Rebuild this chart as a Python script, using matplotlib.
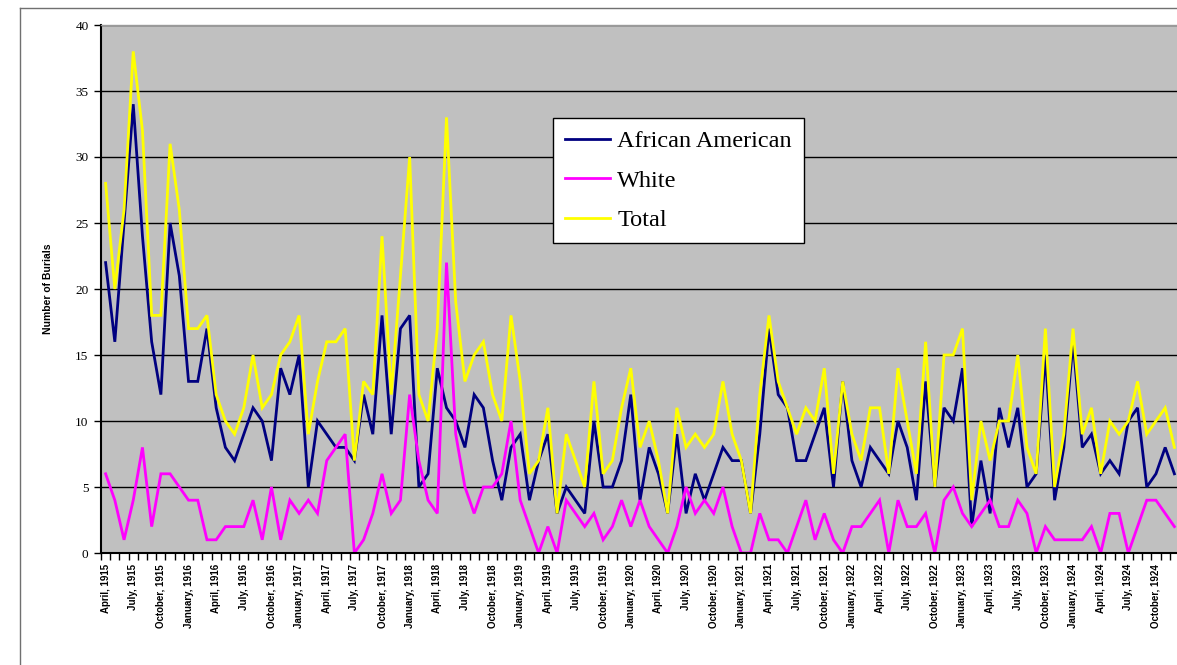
import numpy as np
import matplotlib
matplotlib.use("Agg")
import matplotlib.pyplot as plt
from matplotlib.lines import Line2D

# ---- data (monthly, April 1915 - December 1924) ----
african_american = [22, 16, 25, 34, 24, 16, 12, 25, 21, 13, 13, 17, 11, 8, 7, 9, 11, 10, 7, 14,
                    12, 15, 5, 10, 9, 8, 8, 7, 12, 9, 18, 9, 17, 18, 5, 6, 14, 11, 10, 8,
                    12, 11, 7, 4, 8, 9, 4, 7, 9, 3, 5, 4, 3, 10, 5, 5, 7, 12, 4, 8,
                    6, 3, 9, 3, 6, 4, 6, 8, 7, 7, 3, 9, 17, 12, 11, 7, 7, 9, 11, 5,
                    13, 7, 5, 8, 7, 6, 10, 8, 4, 13, 5, 11, 10, 14, 2, 7, 3, 11, 8, 11,
                    5, 6, 15, 4, 8, 16, 8, 9, 6, 7, 6, 10, 11, 5, 6, 8, 6]
white = [6, 4, 1, 4, 8, 2, 6, 6, 5, 4, 4, 1, 1, 2, 2, 2, 4, 1, 5, 1,
         4, 3, 4, 3, 7, 8, 9, 0, 1, 3, 6, 3, 4, 12, 7, 4, 3, 22, 9, 5,
         3, 5, 5, 6, 10, 4, 2, 0, 2, 0, 4, 3, 2, 3, 1, 2, 4, 2, 4, 2,
         1, 0, 2, 5, 3, 4, 3, 5, 2, 0, 0, 3, 1, 1, 0, 2, 4, 1, 3, 1,
         0, 2, 2, 3, 4, 0, 4, 2, 2, 3, 0, 4, 5, 3, 2, 3, 4, 2, 2, 4,
         3, 0, 2, 1, 1, 1, 1, 2, 0, 3, 3, 0, 2, 4, 4, 3, 2]
total = [28, 20, 26, 38, 32, 18, 18, 31, 26, 17, 17, 18, 12, 10, 9, 11, 15, 11, 12, 15,
         16, 18, 9, 13, 16, 16, 17, 7, 13, 12, 24, 12, 21, 30, 12, 10, 17, 33, 19, 13,
         15, 16, 12, 10, 18, 13, 6, 7, 11, 3, 9, 7, 5, 13, 6, 7, 11, 14, 8, 10,
         7, 3, 11, 8, 9, 8, 9, 13, 9, 7, 3, 12, 18, 13, 11, 9, 11, 10, 14, 6,
         13, 9, 7, 11, 11, 6, 14, 10, 6, 16, 5, 15, 15, 17, 4, 10, 7, 10, 10, 15,
         8, 6, 17, 5, 9, 17, 9, 11, 6, 10, 9, 10, 13, 9, 10, 11, 8]

tick_labels = []
for yr in range(1915, 1925):
    for m in ["January", "April", "July", "October"]:
        if yr == 1915 and m == "January":
            continue
        tick_labels.append(f"{m}, {yr}")

series_names = ["African American", "White", "Total"]
series_colors = ["#000080", "#FF00FF", "#FFFF00"]

# ---- figure ----
W, H = 1177, 665
fig = plt.figure(figsize=(W / 100, H / 100), dpi=100)
fig.patch.set_facecolor("white")

L, R, T, B = 101, 1179, 25, 553
ax = fig.add_axes([L / W, (H - B) / H, (R - L) / W, (B - T) / H])
ax.set_facecolor("#C0C0C0")

x = np.arange(len(african_american))
for vals, name, col in zip([african_american, white, total], series_names, series_colors):
    ax.plot(x, vals, color=col, lw=2, label=name, solid_joinstyle="miter")

ax.set_xlim(-0.5, len(x) - 0.5)
ax.set_ylim(0, 40)

ax.set_yticks(range(0, 41, 5))
ax.yaxis.grid(True, color="black", lw=1)
ax.set_axisbelow(True)
ax.tick_params(axis="y", direction="out", length=5, width=1, labelsize=9.5, pad=4)
for lab in ax.get_yticklabels():
    lab.set_family("Liberation Serif")

ax.set_xticks(np.arange(0, len(x), 3))
ax.set_xticklabels(tick_labels, rotation=90, fontsize=7, fontweight="bold",
                   family="Liberation Sans")
ax.tick_params(axis="x", which="major", length=0, pad=8)
ax.set_xticks(np.arange(-0.5, len(x), 1), minor=True)
ax.tick_params(axis="x", which="minor", direction="out", length=5, width=1)

ax.spines["left"].set_color("black")
ax.spines["left"].set_linewidth(1.5)
ax.spines["bottom"].set_color("black")
ax.spines["bottom"].set_linewidth(1.5)
ax.spines["top"].set_color("#9a9a9a")
ax.spines["top"].set_linewidth(1)
ax.spines["right"].set_visible(False)

fig.text(48 / W, 1 - 289 / H, "Number of Burials", rotation=90, ha="center", va="center",
         fontsize=7.5, fontweight="bold", family="Liberation Sans")

leg = ax.legend(loc="upper left", bbox_to_anchor=(553 / W, 1 - 118 / H),
                bbox_transform=fig.transFigure, frameon=True, fancybox=False,
                edgecolor="black", framealpha=1, borderaxespad=0,
                prop={"family": "Liberation Serif", "size": 17.5},
                handlelength=1.85, handletextpad=0.3, labelspacing=0.72,
                borderpad=0.5)
leg.get_frame().set_linewidth(1)
for line in leg.get_lines():
    line.set_linewidth(2)

# outer chart-area frame
fig.add_artist(Line2D([20 / W, 20 / W], [0, 1 - 8 / H], transform=fig.transFigure,
                      color="#707070", lw=1))
fig.add_artist(Line2D([20 / W, 1], [1 - 8 / H, 1 - 8 / H], transform=fig.transFigure,
                      color="#707070", lw=1))

fig.savefig("out.png", dpi=100)
